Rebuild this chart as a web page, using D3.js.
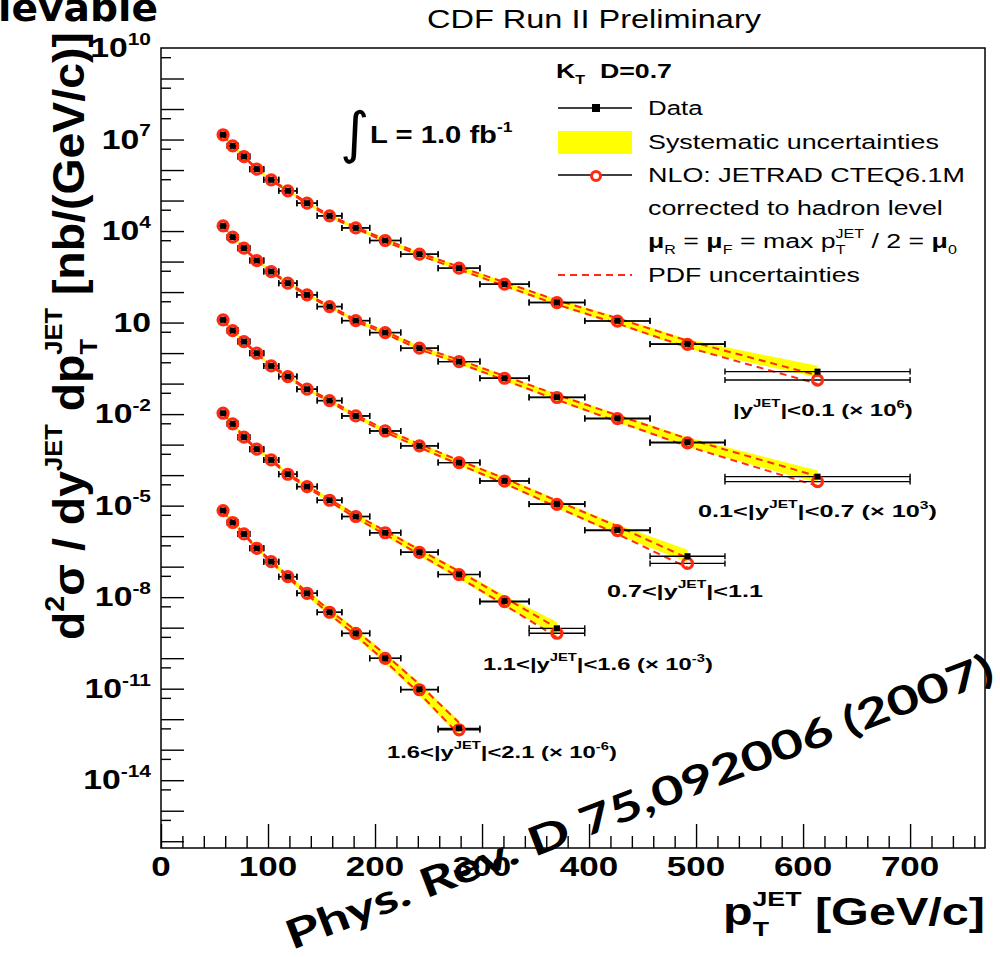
<!DOCTYPE html>
<html>
<head>
<meta charset="utf-8"/>
<style>
body { margin: 0; background: #fff; }
text { font-family: "Liberation Sans", Arial, Helvetica, sans-serif; white-space: pre; }
</style>
</head>
<body>
<script src="https://d3js.org/d3.v7.min.js"></script>
<script>
var width = 1000, height = 957;

// pT bins (GeV/c), shared by all rapidity regions
var ptEdges   = [54, 62, 72, 83, 96, 110, 127, 146, 169, 195, 224, 259, 298, 344, 396, 457, 527, 700];
var ptCenters = [58, 67, 77.5, 89.5, 103, 118.5, 136.5, 157.5, 182, 209.5, 241.5, 278.5, 321, 370, 426.5, 492, 613.5];

// cross sections as plotted (scale factor already applied), nb/(GeV/c)
var xsec1 = [1.43e7, 6.2e6, 2.77e6, 1.07e6, 4.78e5, 2.08e5, 8.2e4, 3.15e4, 1.27e4, 4.9e3, 1.75e3, 608, 182, 45.3, 11.4, 2.0, 0.247];
var xsec2 = [1.48e4, 6.3e3, 2.75e3, 1.08e3, 470, 196, 81, 33.5, 11.6, 4.7, 1.45, 0.526, 0.150, 0.0358, 7.3e-3, 1.2e-3, 8.9e-5];
var xsec3 = [12.3, 5.47, 2.38, 0.99, 0.38, 0.17, 0.0655, 0.0277, 8.7e-3, 2.8e-3, 9.1e-4, 2.57e-4, 6.5e-5, 1.14e-5, 1.6e-6, 2.2e-7];
var xsec4 = [1.07e-2, 4.8e-3, 1.75e-3, 7.1e-4, 3.15e-4, 1.07e-4, 4.2e-5, 1.5e-5, 4.4e-6, 1.29e-6, 2.95e-7, 5.6e-8, 7.4e-9, 9.5e-10];
var xsec5 = [6.9e-6, 2.8e-6, 1.18e-6, 4.0e-7, 1.46e-7, 4.7e-8, 1.34e-8, 3.2e-9, 6.5e-10, 9.9e-11, 9.5e-12, 5.0e-13];

// NLO / data
var nlo1 = [1, 1, 1, 1, 1, 1, 1, 1, 1, 1, 1, 1, 1, 1, 0.98, 0.97, 0.53];
var nlo2 = [1, 1, 1, 1, 1, 1, 1, 1, 1, 1, 1, 1, 1, 0.98, 0.97, 0.95, 0.69];
var nlo3 = [1, 1, 1, 1, 1, 1, 1, 1, 1, 1, 1, 1, 0.98, 0.97, 0.95, 0.58];
var nlo4 = [1, 1, 1, 1, 1, 1, 1, 1, 1, 1, 1, 0.98, 0.96, 0.69];
var nlo5 = [1, 1, 1, 1, 1, 1, 1, 1, 1, 1, 0.97, 0.9];

// systematic uncertainties on data, % up / % down
var sys1Up = [12, 11, 11, 11, 11, 11, 12, 13, 14, 15, 17, 20, 23, 28, 34, 42, 55];
var sys1Dn = [11, 10, 10, 10, 10, 10, 11, 12, 13, 14, 15, 17, 19, 22, 26, 30, 36];
var sys2Up = [12, 11, 11, 11, 11, 11, 12, 13, 14, 16, 18, 21, 25, 30, 37, 46, 60];
var sys2Dn = [11, 10, 10, 10, 10, 10, 11, 12, 13, 14, 16, 18, 20, 23, 27, 31, 37];
var sys3Up = [13, 12, 12, 12, 12, 12, 13, 14, 16, 18, 22, 27, 33, 40, 50, 62];
var sys3Dn = [12, 11, 11, 11, 11, 11, 12, 13, 14, 16, 18, 21, 24, 28, 32, 37];
var sys4Up = [14, 13, 13, 13, 13, 14, 16, 19, 23, 28, 35, 43, 52, 62];
var sys4Dn = [13, 12, 12, 12, 12, 13, 14, 16, 19, 22, 26, 30, 34, 38];
var sys5Up = [16, 15, 15, 15, 17, 20, 25, 32, 41, 52, 64, 78];
var sys5Dn = [14, 13, 13, 13, 15, 17, 20, 24, 28, 33, 38, 43];

// PDF uncertainties on NLO, % up / % down
var pdf1Up = [4, 4, 4, 4, 4, 5, 5, 6, 7, 8, 10, 12, 15, 19, 24, 31, 42];
var pdf1Dn = [4, 4, 4, 4, 4, 5, 5, 6, 6, 7, 8, 10, 12, 14, 17, 20, 25];
var pdf2Up = [4, 4, 4, 4, 4, 5, 5, 6, 7, 9, 11, 14, 18, 23, 29, 37, 50];
var pdf2Dn = [4, 4, 4, 4, 4, 5, 5, 6, 7, 8, 9, 11, 13, 16, 19, 23, 28];
var pdf3Up = [4, 4, 4, 4, 5, 5, 6, 7, 9, 11, 14, 18, 23, 30, 39, 50];
var pdf3Dn = [4, 4, 4, 4, 5, 5, 6, 7, 8, 9, 11, 13, 16, 19, 23, 27];
var pdf4Up = [5, 5, 5, 5, 5, 6, 7, 9, 12, 16, 21, 28, 37, 48];
var pdf4Dn = [5, 5, 5, 5, 5, 6, 7, 8, 10, 12, 15, 18, 22, 26];
var pdf5Up = [5, 5, 5, 5, 6, 8, 11, 16, 24, 35, 50, 70];
var pdf5Dn = [5, 5, 5, 5, 6, 7, 9, 12, 15, 19, 24, 30];

var yTickExp = [10, 7, 4, 1, -2, -5, -8, -11, -14];
var xTickVals = [0, 100, 200, 300, 400, 500, 600, 700];

var svg = d3.select("body").append("svg")
    .attr("width", width)
    .attr("height", height);

svg.append("rect").attr("width", width).attr("height", height).attr("fill", "#fff");

var x = d3.scaleLinear().domain([0, 770]).range([161, 985]);
var y = d3.scaleLog().domain([6e-17, 1e10]).range([848, 48]);

// text with super/subscripts; parts: [string, baseline shift (em), size factor, dx (em), weight]
function richText(parent, parts, o) {
  var base = o.size;
  var t = parent.append("text")
      .attr("font-size", base)
      .attr("font-weight", o.weight || "bold")
      .attr("text-anchor", o.anchor || "start")
      .attr("fill", o.fill || "#000");
  if (o.family) t.style("font-family", o.family);
  var cur = 0;
  parts.forEach(function(p) {
    if (typeof p === "string") p = [p];
    var shift = p[1] || 0, sc = p[2] || 1;
    var ts = t.append("tspan").text(p[0])
        .attr("font-size", base * sc)
        .attr("dy", (shift - cur) * base);
    if (p[3]) ts.attr("dx", p[3] * base);
    if (p[4]) ts.attr("font-weight", p[4]);
    cur = shift;
  });
  var w = t.node().getBBox().width;
  var sx = o.width ? o.width / w : (o.sx || 1.25);
  t.attr("transform", "translate(" + o.x + "," + o.y + ")" +
      (o.rotate ? " rotate(" + o.rotate + ")" : "") +
      " scale(" + sx + "," + (o.sy || 1) + ")");
  return t;
}

// ---- series ----
var regions = [
  {v: xsec1, r: nlo1, su: sys1Up, sd: sys1Dn, pu: pdf1Up, pd: pdf1Dn},
  {v: xsec2, r: nlo2, su: sys2Up, sd: sys2Dn, pu: pdf2Up, pd: pdf2Dn},
  {v: xsec3, r: nlo3, su: sys3Up, sd: sys3Dn, pu: pdf3Up, pd: pdf3Dn},
  {v: xsec4, r: nlo4, su: sys4Up, sd: sys4Dn, pu: pdf4Up, pd: pdf4Dn},
  {v: xsec5, r: nlo5, su: sys5Up, sd: sys5Dn, pu: pdf5Up, pd: pdf5Dn}
];

var gBand = svg.append("g"), gPdf = svg.append("g"), gBars = svg.append("g"),
    gNlo = svg.append("g"), gData = svg.append("g");

var red = "#ff2a10";

regions.forEach(function(s) {
  var pts = s.v.map(function(v, i) {
    return {pt: ptCenters[i], lo: ptEdges[i], hi: ptEdges[i + 1], v: v, nlo: v * s.r[i],
            su: s.su[i], sd: s.sd[i], pu: s.pu[i], pd: s.pd[i]};
  });

  gBand.append("path")
      .datum(pts)
      .attr("fill", "#ffff00")
      .attr("d", d3.area()
        .x(function(d) { return x(d.pt); })
        .y0(function(d) { return y(d.v * (1 - d.sd / 100)); })
        .y1(function(d) { return y(d.v * (1 + d.su / 100)); }));

  [function(d) { return d.nlo * (1 + d.pu / 100); },
   function(d) { return d.nlo * (1 - d.pd / 100); }].forEach(function(f) {
    gPdf.append("path")
        .datum(pts)
        .attr("fill", "none")
        .attr("stroke", red)
        .attr("stroke-width", 2)
        .attr("stroke-dasharray", "7,5")
        .attr("d", d3.line().x(function(d) { return x(d.pt); }).y(function(d) { return y(f(d)); }));
  });

  ["v", "nlo"].forEach(function(k) {
    var b = gBars.selectAll(null).data(pts).enter().append("g")
        .attr("stroke", "#000").attr("stroke-width", 1.4);
    b.append("line")
        .attr("x1", function(d) { return x(d.lo); }).attr("x2", function(d) { return x(d.hi); })
        .attr("y1", function(d) { return y(d[k]); }).attr("y2", function(d) { return y(d[k]); });
    b.append("line")
        .attr("x1", function(d) { return x(d.lo); }).attr("x2", function(d) { return x(d.lo); })
        .attr("y1", function(d) { return y(d[k]) - 3; }).attr("y2", function(d) { return y(d[k]) + 3; });
    b.append("line")
        .attr("x1", function(d) { return x(d.hi); }).attr("x2", function(d) { return x(d.hi); })
        .attr("y1", function(d) { return y(d[k]) - 3; }).attr("y2", function(d) { return y(d[k]) + 3; });
  });

  gNlo.selectAll(null).data(pts).enter().append("circle")
      .attr("cx", function(d) { return x(d.pt); })
      .attr("cy", function(d) { return y(d.nlo); })
      .attr("r", 5)
      .attr("fill", "none")
      .attr("stroke", red)
      .attr("stroke-width", 3.2);

  gData.selectAll(null).data(pts).enter().append("rect")
      .attr("x", function(d) { return x(d.pt) - 3; })
      .attr("y", function(d) { return y(d.v) - 3; })
      .attr("width", 6).attr("height", 6)
      .attr("fill", "#000");
});

// ---- frame and axes ----
svg.append("rect")
    .attr("x", x(0)).attr("y", y(1e10))
    .attr("width", x(770) - x(0)).attr("height", y(6e-17) - y(1e10))
    .attr("fill", "none").attr("stroke", "#000").attr("stroke-width", 1.5);

var xMinor = d3.range(20, 770, 20).filter(function(v) { return v % 100 !== 0; });
var yMajor = d3.range(-16, 10).map(function(e) { return Math.pow(10, e); });
var yMinor = d3.range(-16, 10).map(function(e) { return 5 * Math.pow(10, e); });

function styleAxis(g) {
  g.select(".domain").remove();
  g.selectAll("text").remove();
  g.selectAll("line").attr("stroke", "#000").attr("stroke-width", 1.4);
}

svg.append("g").attr("transform", "translate(0," + y(6e-17) + ")")
    .call(d3.axisBottom(x).tickValues(xTickVals).tickSize(-24)).call(styleAxis);
svg.append("g").attr("transform", "translate(0," + y(6e-17) + ")")
    .call(d3.axisBottom(x).tickValues(xMinor).tickSize(-12)).call(styleAxis);
svg.append("g").attr("transform", "translate(" + x(0) + ",0)")
    .call(d3.axisLeft(y).tickValues(yMajor).tickSize(-23)).call(styleAxis);
svg.append("g").attr("transform", "translate(" + x(0) + ",0)")
    .call(d3.axisLeft(y).tickValues(yMinor).tickSize(-10)).call(styleAxis);

yTickExp.forEach(function(e) {
  var parts = e === 1 ? ["10"] : ["10", [String(e), -0.45, 0.62]];
  richText(svg, parts, {x: 151, y: y(Math.pow(10, e)) + 9, size: 27, anchor: "end"});
});

xTickVals.forEach(function(v) {
  richText(svg, [String(v)], {x: x(v), y: 876, size: 28, anchor: "middle"});
});

// axis titles
richText(svg, ["d", ["2", -0.45, 0.62], ["\u03c3 / dy", 0], ["JET", -0.5, 0.55], [" dp", 0],
               ["T", 0.3, 0.55], ["JET", -0.5, 0.55, -0.34], [" [nb/(GeV/c)]", 0]],
    {x: 84, y: 640, size: 38, rotate: -90, width: 608, sy: 1.15});

richText(svg, ["p", ["T", 0.3, 0.55], ["JET", -0.5, 0.55, -0.34], [" [GeV/c]", 0]],
    {x: 723, y: 925, size: 38, width: 262});

richText(svg, ["CDF Run II Preliminary"], {x: 594, y: 28, size: 26, weight: "normal", anchor: "middle"});

// luminosity
richText(svg, ["\u222b"], {x: 340, y: 152, size: 56, weight: "normal", sx: 1, family: "DejaVu Sans"});
richText(svg, ["L = 1.0 fb", ["-1", -0.5, 0.6]], {x: 370, y: 143, size: 23, width: 143});

// rapidity labels
var regionLabels = [
  {parts: ["|y", ["JET", -0.55, 0.62], ["|<0.1 (\u00d7 10", 0], ["6", -0.45, 0.62], [")", 0]], x: 733, y: 416, w: 180},
  {parts: ["0.1<|y", ["JET", -0.55, 0.62], ["|<0.7 (\u00d7 10", 0], ["3", -0.45, 0.62], [")", 0]], x: 698, y: 517, w: 239},
  {parts: ["0.7<|y", ["JET", -0.55, 0.62], ["|<1.1", 0]], x: 607, y: 597, w: 156},
  {parts: ["1.1<|y", ["JET", -0.55, 0.62], ["|<1.6 (\u00d7 10", 0], ["-3", -0.45, 0.62], [")", 0]], x: 483, y: 670, w: 230},
  {parts: ["1.6<|y", ["JET", -0.55, 0.62], ["|<2.1 (\u00d7 10", 0], ["-6", -0.45, 0.62], [")", 0]], x: 387, y: 758, w: 230}
];
regionLabels.forEach(function(l) {
  richText(svg, l.parts, {x: l.x, y: l.y, size: 17, width: l.w});
});

// ---- legend ----
var lg = svg.append("g");
richText(lg, ["K", ["T", 0.3, 0.6], ["  D=0.7", 0]], {x: 556, y: 78, size: 21, width: 116});

lg.append("line").attr("x1", 558).attr("x2", 632).attr("y1", 108).attr("y2", 108)
    .attr("stroke", "#000").attr("stroke-width", 1.4);
lg.append("rect").attr("x", 592).attr("y", 104).attr("width", 8).attr("height", 8).attr("fill", "#000");
richText(lg, ["Data"], {x: 648, y: 115, size: 21, weight: "normal", width: 55});

lg.append("rect").attr("x", 558).attr("y", 131).attr("width", 74).attr("height", 23).attr("fill", "#ffff00");
richText(lg, ["Systematic uncertainties"], {x: 648, y: 149, size: 21, weight: "normal", width: 291});

lg.append("line").attr("x1", 558).attr("x2", 632).attr("y1", 175).attr("y2", 175)
    .attr("stroke", "#000").attr("stroke-width", 1.4);
lg.append("circle").attr("cx", 596).attr("cy", 176).attr("r", 4.5)
    .attr("fill", "#fff").attr("stroke", red).attr("stroke-width", 3);
richText(lg, ["NLO: JETRAD CTEQ6.1M"], {x: 648, y: 182, size: 21, weight: "normal", width: 317});
richText(lg, ["corrected to hadron level"], {x: 648, y: 215, size: 21, weight: "normal", width: 295});
richText(lg, [["\u03bc", 0, 1, 0, "bold"], ["R", 0.3, 0.6], [" = ", 0], ["\u03bc", 0, 1, 0, "bold"], ["F", 0.3, 0.6],
              [" = max p", 0], ["T", 0.3, 0.6], ["JET", -0.5, 0.6, -0.37], [" / 2 = ", 0],
              ["\u03bc", 0, 1, 0, "bold"], ["0", 0.3, 0.6]],
    {x: 648, y: 248, size: 21, weight: "normal", width: 309});

lg.append("line").attr("x1", 558).attr("x2", 632).attr("y1", 275).attr("y2", 275)
    .attr("stroke", red).attr("stroke-width", 2).attr("stroke-dasharray", "7,5");
richText(lg, ["PDF uncertainties"], {x: 648, y: 282, size: 21, weight: "normal", width: 212});

// ---- overlaid annotations ----
richText(svg, ["ievable"], {x: -2, y: 21, size: 38, width: 160, family: "DejaVu Sans"});
richText(svg, ["Phys. Rev. D 75,092006 (2007)"], {x: 292, y: 950, size: 40, weight: "bold", width: 755, rotate: -21, family: "Lato, DejaVu Sans"});
</script>
</body>
</html>
